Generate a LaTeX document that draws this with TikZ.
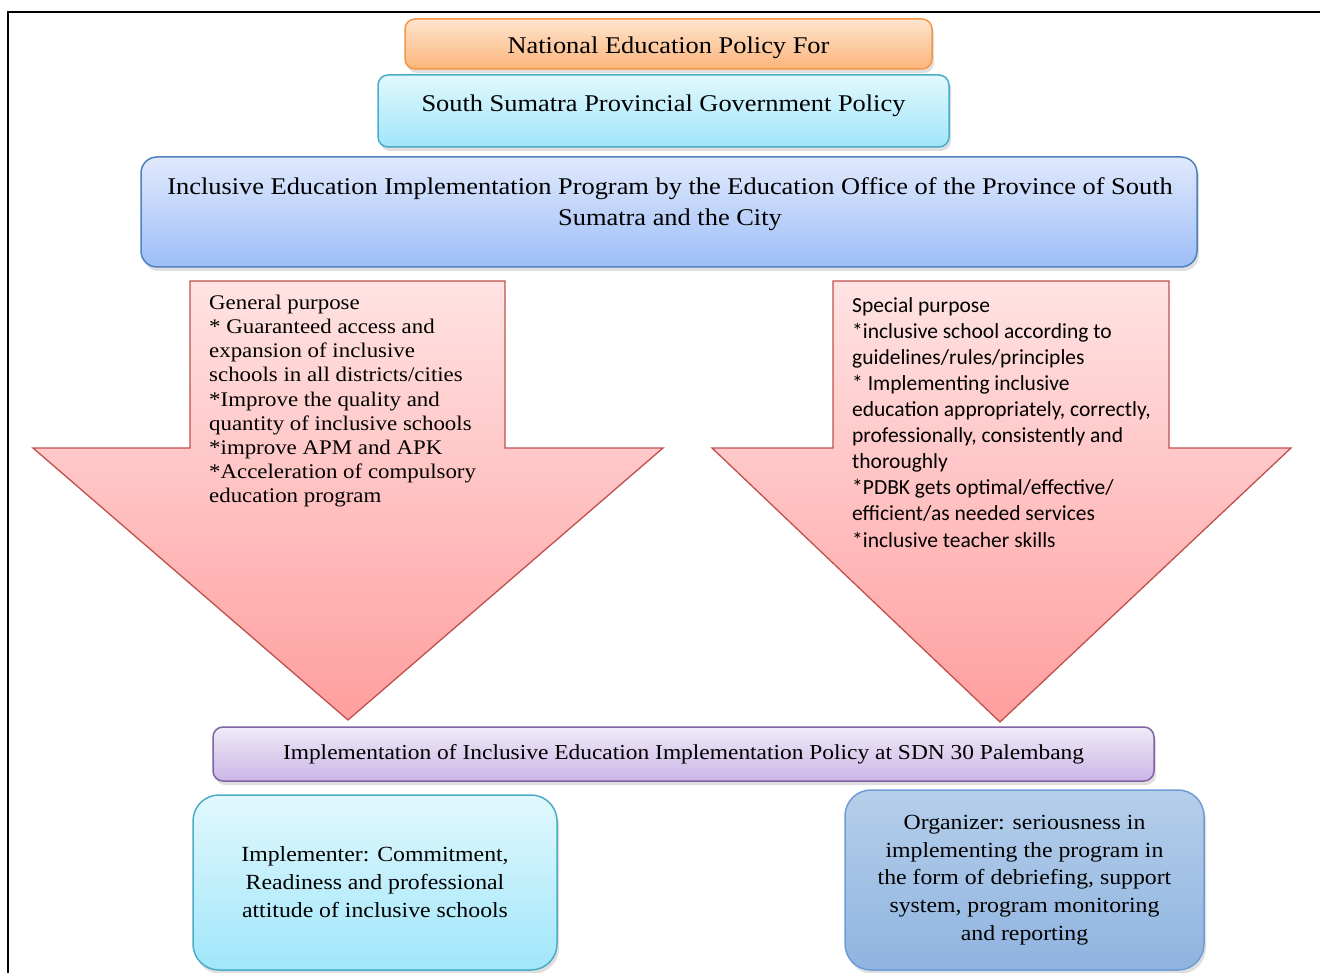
\documentclass[tikz,border=0pt]{standalone}
\usepackage{fontspec}
\setmainfont[FakeStretch=1.1]{Liberation Serif}
\newfontfamily\calibrifont{Carlito}
\usetikzlibrary{shadows}

\definecolor{orangeline}{HTML}{F79646}
\definecolor{orangetop}{HTML}{FEE4CE}
\definecolor{orangebot}{HTML}{FBB57A}
\definecolor{cyanline}{HTML}{4BACC6}
\definecolor{cyantop}{HTML}{E2F8FD}
\definecolor{cyanbot}{HTML}{A0E6FA}
\definecolor{blueline}{HTML}{4F81BD}
\definecolor{bluetop}{HTML}{E0E9FC}
\definecolor{bluebot}{HTML}{9EBEF8}
\definecolor{redline}{HTML}{C0504D}
\definecolor{redtop}{HTML}{FFE3E3}
\definecolor{redbot}{HTML}{FF9E9E}
\definecolor{purpleline}{HTML}{8064A2}
\definecolor{purpletop}{HTML}{F0EBF8}
\definecolor{purplebot}{HTML}{CAB5E6}
\definecolor{steelline}{HTML}{6E9CD6}
\definecolor{steeltop}{HTML}{B6CFEA}
\definecolor{steelbot}{HTML}{8FB3E0}

\tikzset{
	box/.style={rounded corners=10pt, line width=1.5pt, inner sep=0pt, align=center,
		drop shadow={shadow xshift=2pt, shadow yshift=-4pt, opacity=0.25}},
	orangebox/.style={box, draw=orangeline, top color=orangetop, bottom color=orangebot},
	cyanbox/.style={box, draw=cyanline, top color=cyantop, bottom color=cyanbot},
	bluebox/.style={box, rounded corners=16pt, draw=blueline, top color=bluetop, bottom color=bluebot},
	purplebox/.style={box, draw=purpleline, top color=purpletop, bottom color=purplebot},
	steelbox/.style={box, rounded corners=26pt, draw=steelline, top color=steeltop, bottom color=steelbot},
	redarrow/.style={draw=redline, line width=1.3pt, top color=redtop, bottom color=redbot},
	purposetext/.style={anchor=north west, align=left, inner sep=0pt}
}

\begin{document}
\begin{tikzpicture}[x=1pt, y=-1pt]
	\useasboundingbox (0,0) rectangle (1320,973);
	% frame
	\draw[line width=1.4pt] (8,973) -- (8,12) -- (1320,12);
	% policy boxes
	\node[orangebox, minimum width=527pt, minimum height=50pt, text height=35pt, text depth=15pt, font=\fontsize{24}{29}\selectfont] (national) at (668.5,44) {National Education Policy For};
	\node[cyanbox, minimum width=571pt, minimum height=72pt, text height=37pt, text depth=35pt, font=\fontsize{24}{29}\selectfont] (province) at (663.5,111) {South Sumatra Provincial Government Policy};
	\node[bluebox, minimum width=1056pt, minimum height=110pt] (program) at (669,212) {};
	\node[font=\fontsize{24}{31}\selectfont, align=center] (programtext) at (670,204.5) {Inclusive Education Implementation Program by the Education Office of the Province of South\\Sumatra and the City};
	% purpose arrows
	\draw[redarrow] (190,281) -- (505,281) -- (505,448) -- (663,448) -- (348,720) -- (33,448) -- (190,448) -- cycle;
	\draw[redarrow] (833,281) -- (1169,281) -- (1169,448) -- (1291,448) -- (1000,722) -- (712,448) -- (833,448) -- cycle;
	\node[purposetext, font=\fontsize{20.8}{24.1}\selectfont] (general) at (209,295) {General purpose\\
		* Guaranteed access and\\
		expansion of inclusive\\
		schools in all districts/cities\\
		*Improve the quality and\\
		quantity of inclusive schools\\
		*improve APM and APK\\
		*Acceleration of compulsory\\
		education program};
	\node[purposetext, font=\calibrifont\fontsize{21.5}{26.1}\selectfont] (special) at (852,297) {Special purpose\\
		*inclusive school according to\\
		guidelines/rules/principles\\
		* Implementing inclusive\\
		education appropriately, correctly,\\
		professionally, consistently and\\
		thoroughly\\
		*PDBK gets optimal/effective/\\
		efficient/as needed services\\
		*inclusive teacher skills};
	% school level
	\node[purplebox, minimum width=941pt, minimum height=54pt, font=\fontsize{21.3}{27}\selectfont] (school) at (683.5,754) {Implementation of Inclusive Education Implementation Policy at SDN 30 Palembang};
	\node[cyanbox, rounded corners=26pt, minimum width=364pt, minimum height=175pt, font=\fontsize{21.6}{28}\selectfont] (implementer) at (375,882.5) {Implementer: Commitment,\\Readiness and professional\\attitude of inclusive schools};
	\node[steelbox, minimum width=359pt, minimum height=180pt, font=\fontsize{21.6}{27.8}\selectfont] (organizer) at (1024.5,880) {Organizer: seriousness in\\implementing the program in\\the form of debriefing, support\\system, program monitoring\\and reporting};
\end{tikzpicture}
\end{document}
